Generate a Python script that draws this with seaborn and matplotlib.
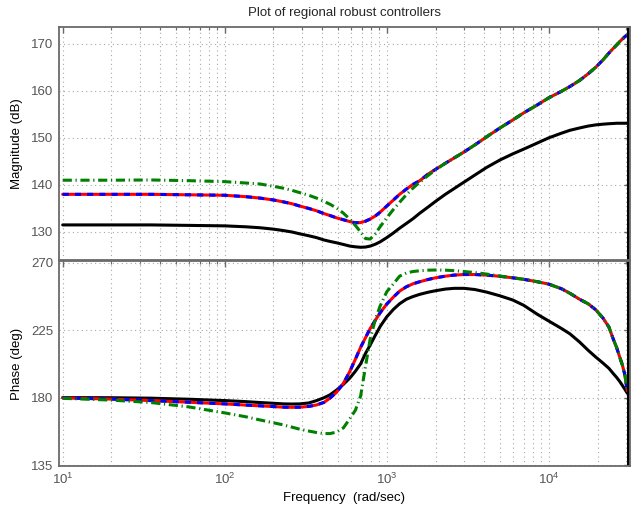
import matplotlib
matplotlib.use("Agg")
import matplotlib.pyplot as plt
import matplotlib.ticker as mticker
import seaborn as sns

# frequency grid (rad/sec)
freq = [10, 20, 35, 60, 100, 135, 165, 200, 230, 260, 291, 330, 369, 410, 446,
        490, 540, 592, 640, 690, 740, 790, 850, 910, 1000, 1100, 1200, 1320, 1450,
        1600, 1800, 2000, 2300, 2600, 3000, 3500, 4130, 5000, 6000, 7000, 8500,
        10000, 12000, 13500, 15500, 17500, 19500, 21600, 23500, 25000, 26200,
        27500, 28500, 29500, 30500]

# magnitude (dB)
mag_black = [131.5, 131.5, 131.5, 131.4, 131.3, 131.1, 130.9, 130.6, 130.3, 130.0,
             129.6, 129.2, 128.8, 128.3, 128.0, 127.7, 127.35, 127.0, 126.85, 126.75,
             126.8, 127.0, 127.4, 127.9, 128.8, 129.8, 130.8, 131.8, 132.8, 134.0,
             135.3, 136.5, 138.0, 139.2, 140.6, 142.1, 143.7, 145.3, 146.6, 147.6,
             148.9, 150.0, 151.0, 151.6, 152.1, 152.5, 152.75, 152.9, 153.0, 153.05,
             153.1, 153.1, 153.1, 153.1, 153.1]
mag_red = [138.0, 138.0, 138.0, 137.9, 137.8, 137.5, 137.2, 136.8, 136.4, 136.0,
           135.5, 135.0, 134.5, 133.9, 133.5, 133.0, 132.6, 132.2, 131.95, 132.0,
           132.3, 132.75, 133.4, 134.2, 135.5, 136.8, 138.0, 139.1, 140.1, 140.9,
           142.3, 143.3, 144.6, 145.7, 147.0, 148.5, 150.2, 152.1, 153.8, 155.3,
           157.0, 158.5, 159.9, 160.9, 162.2, 163.6, 165.0, 166.55, 168.0, 169.0,
           169.7, 170.5, 171.0, 171.5, 171.9]
mag_blue = mag_red
mag_green = [141.0, 141.0, 141.05, 140.9, 140.7, 140.4, 140.2, 139.7, 139.3, 138.85,
             138.35, 137.8, 137.2, 136.5, 135.9, 135.1, 134.0, 132.7, 131.4, 130.0,
             128.6, 128.5, 129.6, 131.1, 133.0, 134.8, 136.3, 137.9, 139.3, 140.6,
             142.0, 143.2, 144.6, 145.7, 147.0, 148.5, 150.2, 152.1, 153.8, 155.3,
             157.0, 158.5, 159.9, 160.9, 162.2, 163.6, 165.0, 166.55, 168.0, 169.0,
             169.7, 170.5, 171.0, 171.5, 171.9]

# phase (deg)
ph_black = [180.0, 179.9, 179.6, 178.9, 178.0, 177.3, 176.7, 176.2, 175.8, 175.7,
            175.8, 176.4, 178.0, 179.9, 181.8, 185.0, 188.8, 193.0, 197.5, 202.5,
            209.5, 215.0, 221.5, 227.3, 233.8, 238.8, 242.5, 245.5, 247.3, 248.8,
            250.2, 251.2, 252.3, 252.8, 252.8, 252.0, 250.3, 247.8, 245.0, 241.5,
            235.5, 231.0, 226.0, 222.5, 217.0, 211.5, 207.0, 203.0, 199.5, 196.0,
            193.5, 190.5, 188.0, 185.5, 183.0]
ph_red = [179.8, 179.0, 178.0, 176.9, 175.8, 175.0, 174.5, 174.0, 173.6, 173.5,
          173.6, 174.1, 175.1, 176.8, 179.6, 183.5, 189.5, 197.5, 205.5, 213.5,
          220.0, 226.0, 231.5, 236.5, 242.3, 247.0, 250.9, 253.8, 255.8, 257.2,
          258.7, 259.8, 260.9, 261.6, 262.0, 262.0, 261.6, 260.8, 259.8, 258.8,
          257.2, 255.6, 252.5, 249.5, 245.5, 242.5, 238.5, 233.0, 227.0, 219.0,
          213.5, 206.5, 201.5, 195.0, 184.5]
ph_blue = ph_red
ph_green = [179.5, 178.3, 176.7, 173.8, 169.8, 167.2, 165.1, 163.2, 161.8, 160.3,
            158.9, 157.7, 156.7, 156.0, 156.0, 157.0, 159.8, 166.0, 171.5, 181.0,
            201.0, 219.0, 232.0, 241.0, 250.5, 255.8, 260.9, 263.0, 264.0, 264.5,
            264.9, 265.0, 264.9, 264.6, 264.0, 263.3, 262.3, 261.0, 259.8, 258.8,
            257.2, 255.6, 252.5, 249.5, 245.5, 242.5, 238.5, 233.0, 227.0, 219.0,
            213.5, 206.5, 201.5, 195.0, 184.5]

mag_ticks = [130, 140, 150, 160, 170]
ph_ticks = [135, 180, 225, 270]

sns.set_style("white")
plt.rcParams["font.family"] = ["Liberation Sans", "DejaVu Sans"]
plt.rcParams["mathtext.fontset"] = "custom"
plt.rcParams["mathtext.rm"] = "Liberation Sans"
plt.rcParams["mathtext.it"] = "Liberation Sans"

frame = "#6a6a6a"
gridc = "#a8a8a8"

fig = plt.figure(figsize=(6.42, 5.13), dpi=100)
ax1 = fig.add_axes([0.0919, 0.4932, 0.889, 0.4542])
ax2 = fig.add_axes([0.0919, 0.0916, 0.889, 0.3996], sharex=ax1)


def draw(ax, ys):
    black, red, blue, green = ys
    sns.lineplot(x=freq, y=black, ax=ax, color="black", lw=2.2)
    sns.lineplot(x=freq, y=red, ax=ax, color="red", lw=2.2)
    sns.lineplot(x=freq, y=blue, ax=ax, color="blue", lw=2.2, linestyle=(0, (2, 2)))
    sns.lineplot(x=freq, y=green, ax=ax, color="green", lw=2.2,
                 linestyle=(0, (3, 1.2, 0.4, 1.2)))
    ax.axvline(31300, color="black", lw=3.6)


draw(ax1, (mag_black, mag_red, mag_blue, mag_green))
draw(ax2, (ph_black, ph_red, ph_blue, ph_green))

for ax in (ax1, ax2):
    ax.set_xscale("log")
    ax.set_xlim(9.49, 31600)
    ax.xaxis.set_minor_locator(mticker.LogLocator(base=10, subs=range(2, 10)))
    ax.grid(True, which="major", axis="both", color=gridc, ls=(0, (1, 3)), lw=0.8)
    ax.grid(True, which="minor", axis="x", color=gridc, ls=(0, (1, 3)), lw=0.8)
    for s in ax.spines.values():
        s.set_color(frame)
        s.set_linewidth(1.3)
    ax.tick_params(which="both", direction="in", top=True, right=True,
                   colors=frame, labelcolor="#555555", labelsize=9.5)
    ax.tick_params(which="major", length=4, width=1.0, pad=4)
    ax.tick_params(which="minor", length=2, width=0.8)

ax1.set_ylim(124.05, 173.55)
ax1.set_yticks(mag_ticks)
ax1.tick_params(axis="x", which="both", labelbottom=False)
ax1.set_ylabel("Magnitude (dB)", fontsize=9.5, color="black", labelpad=6)
ax1.set_title("Plot of regional robust controllers", fontsize=9.5, pad=8)

ax2.set_ylim(134.4, 271.0)
ax2.set_yticks(ph_ticks)
ax2.set_ylabel("Phase (deg)", fontsize=9.5, color="black", labelpad=6)
ax2.set_xlabel("Frequency  (rad/sec)", fontsize=9.5, color="black", labelpad=4)

fig.savefig("out.png", dpi=100)
